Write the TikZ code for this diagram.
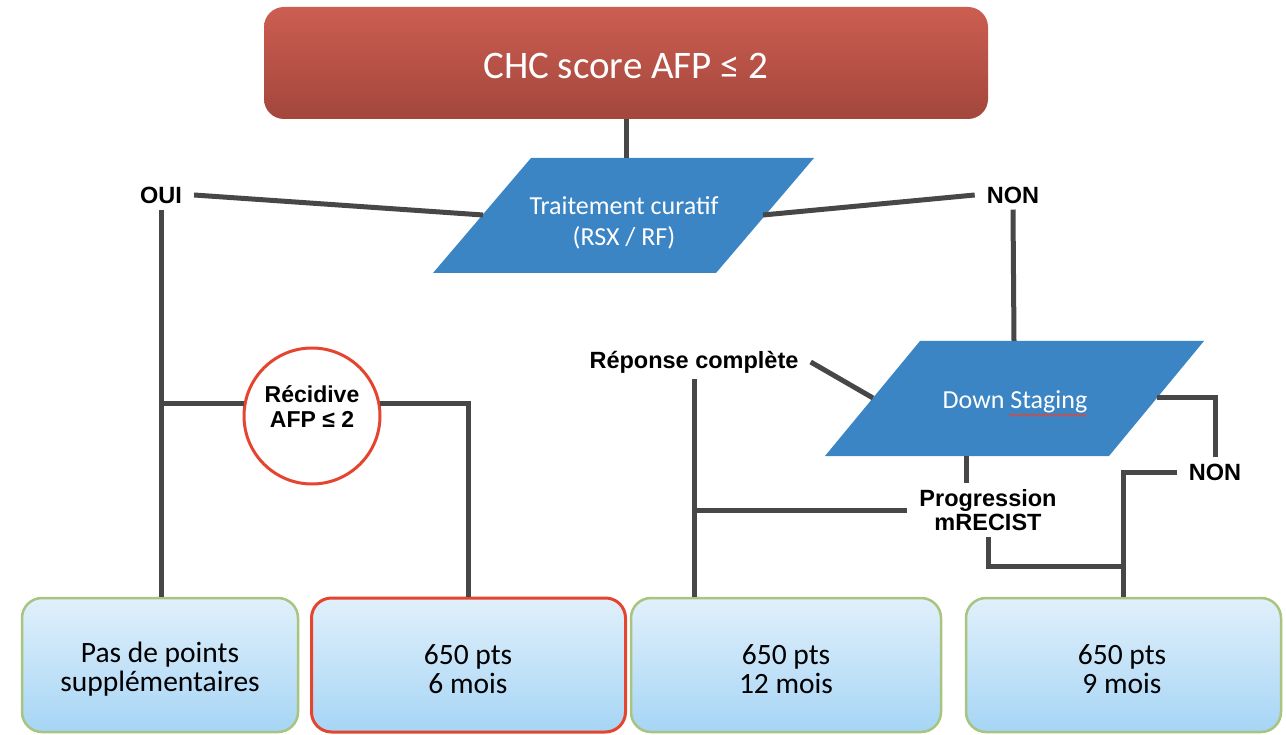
\documentclass[tikz,border=0pt]{standalone}
\usepackage{fontspec}
\setmainfont{Carlito}
\newfontfamily\labelfont{Liberation Sans}
\usetikzlibrary{calc,decorations.pathmorphing}

\definecolor{titletop}{HTML}{CC5E51}
\definecolor{titlebot}{HTML}{A3463C}
\definecolor{parablue}{HTML}{3B85C5}
\definecolor{linkgray}{HTML}{474747}
\definecolor{boxtop}{HTML}{E1F0FB}
\definecolor{boxbot}{HTML}{A6D5F5}
\definecolor{boxgreen}{HTML}{A8C47E}
\definecolor{alertred}{HTML}{E5452F}

\tikzset{
  link/.style={draw=linkgray, line width=5pt},
  lbl/.style={font=\labelfont\bfseries\fontsize{23.5}{24}\selectfont,
    inner xsep=12pt, inner ysep=6pt, align=center},
  titlebox/.style={rounded corners=20pt, top color=titletop, bottom color=titlebot,
    minimum width=724pt, minimum height=112pt},
  titletext/.style={text=white, font=\fontsize{39}{40}\selectfont},
  paraface/.style={fill=parablue},
  paratext/.style={text=white, align=center, font=\fontsize{26}{31}\selectfont},
  outbox/.style={rounded corners=20pt, draw=boxgreen, line width=2.5pt,
    top color=boxtop, bottom color=boxbot, minimum height=134pt},
  alertbox/.style={outbox, draw=alertred, line width=3pt},
  boxtext/.style={align=center, font=\fontsize{29.5}{29}\selectfont},
  ringnode/.style={circle, draw=alertred, line width=3pt, fill=white,
    minimum size=136pt, inner sep=0pt},
  ringtext/.style={align=center, inner sep=0pt,
    font=\labelfont\bfseries\fontsize{23}{25}\selectfont},
}

\begin{document}
\begin{tikzpicture}[x=1pt, y=-1pt]
\useasboundingbox (0,0) rectangle (1286,735);

% title
\node[titlebox] (chc) at (626,63) {};
\node[titletext] (chct) at (626,66) {CHC score AFP ≤ 2};

% parallelogram: curative treatment
\fill[paraface] (531,158) -- (814,158) -- (716,273) -- (433,273) -- cycle;
\node[paratext] (cur) at (624,223) {Traitement curatif\\(RSX / RF)};
\coordinate (curT) at (626,158);
\coordinate (curL) at (483,215);
\coordinate (curR) at (763,215);

% parallelogram: down staging
\fill[paraface] (920,341) -- (1204,341) -- (1109,456) -- (825,456) -- cycle;
\node[paratext] (ds) at (1015,402) {Down Staging};
\coordinate (dsT) at (1014,341);
\coordinate (dsL) at (873,398);
\coordinate (dsR) at (1157,398);
\coordinate (dsB) at (966,456);
\draw[alertred, line width=0.9pt, decorate,
  decoration={snake, segment length=4pt, amplitude=1.1pt}] (1009,415) -- (1087,415);

% labels
\node[lbl] (oui) at (161,195) {OUI};
\node[lbl] (non) at (1013,195) {NON};
\node[lbl] (rep) at (694,362) {Réponse complète};
\node[lbl] (prog) at (988,510) {Progression\\mRECIST};
\node[lbl] (non2) at (1215,472) {NON};

% recurrence ring
\node[ringnode] (rec) at (312,416) {};
\node[ringtext] (rect) at (312,407) {Récidive\\AFP ≤ 2};

% outcome boxes
\node[outbox, minimum width=276pt] (box1) at (160,665) {};
\node[boxtext] (box1t) at (160,669) {Pas de points\\supplémentaires};
\node[alertbox, minimum width=314pt] (box2) at (468.5,665) {};
\node[boxtext] (box2t) at (468,669) {650 pts\\6 mois};
\node[outbox, minimum width=310pt] (box3) at (786,665) {};
\node[boxtext] (box3t) at (786,669) {650 pts\\12 mois};
\node[outbox, minimum width=315pt] (box4) at (1123.5,665) {};
\node[boxtext] (box4t) at (1122,669) {650 pts\\9 mois};

% connectors
\draw[link] (chc.south) -- (curT);
\draw[link] (oui.east) -- (curL);
\draw[link] (curR) -- (non.west);
\draw[link] (oui.south) -- (oui.south |- box1.north);
\coordinate (j1) at (oui.south |- rec.170);
\draw[link] (j1) -- (rec.170);
\draw[link] (rec.10) -| (box2.north);
\draw[link] (non.south) -- (dsT);
\draw[link] (rep.east) -- (dsL);
\draw[link] (rep.south) -- (rep.south |- box3.north);
\draw[link] (rep.south |- prog.west) -- (prog.west);
\draw[link] (dsB) -- (dsB |- prog.north);
\draw[link] (dsR) -| (non2.north);
\draw[link] (non2.west) -| (box4.north);
\coordinate (j4) at ($(box4.north)+(0,-30)$);
\draw[link] (prog.south) |- (j4);
\end{tikzpicture}
\end{document}
